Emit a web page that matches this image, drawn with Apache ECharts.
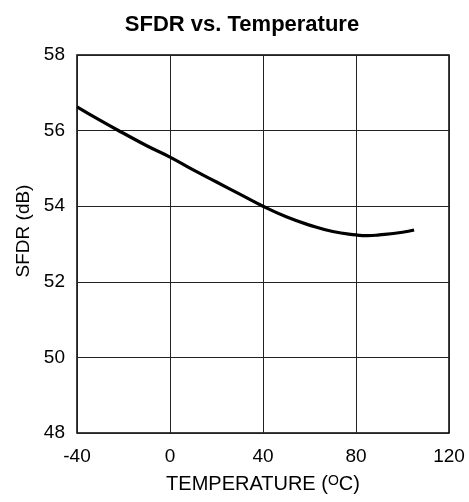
<!DOCTYPE html>
<html>
<head>
<meta charset="utf-8">
<script src="https://cdn.jsdelivr.net/npm/echarts@6/dist/echarts.min.js"></script>
<style>
  html, body { margin: 0; padding: 0; background: #fff; }
  #chart { width: 469px; height: 502px; }
</style>
</head>
<body>
<div id="chart"></div>
<script>
// SFDR (dB) measured against die temperature (°C)
const temperature = [-40, -30, -20, -10, 0, 10, 20, 30, 40, 50, 60, 70, 80, 85, 90, 100, 105];
const sfdr = [56.63, 56.27, 55.93, 55.6, 55.3, 54.96, 54.64, 54.32, 54.0, 53.72, 53.5, 53.33, 53.24, 53.22, 53.24, 53.31, 53.37];
const xTicks = [-40, 0, 40, 80, 120];
const yTicks = [48, 50, 52, 54, 56, 58];

const font = 'Liberation Sans, Arial, Helvetica, sans-serif';
const chart = echarts.init(document.getElementById('chart'));

chart.setOption({
  animation: false,
  title: {
    text: 'SFDR vs. Temperature',
    left: 237, top: 9, textAlign: 'center',
    textStyle: { fontFamily: font, fontWeight: 'bold', fontSize: 22, color: '#000' }
  },
  grid: { left: 77, right: 20, top: 55, bottom: 69, show: true, borderColor: '#000', borderWidth: 1.5 },
  xAxis: {
    type: 'value',
    min: xTicks[0], max: xTicks[xTicks.length - 1], interval: 40,
    name: 'TEMPERATURE ({sup|O}C)',
    nameLocation: 'middle', nameGap: 41,
    nameTextStyle: {
      fontFamily: font, fontSize: 20, color: '#000',
      rich: { sup: { fontFamily: font, fontSize: 14, color: '#000', verticalAlign: 'top', padding: [0, 0, 6, 0] } }
    },
    axisLine: { show: false },
    axisTick: { show: false },
    axisLabel: { fontFamily: font, fontSize: 19, color: '#000', margin: 14 },
    splitLine: { show: true, lineStyle: { color: '#222', width: 1 } }
  },
  yAxis: {
    type: 'value',
    min: yTicks[0], max: yTicks[yTicks.length - 1], interval: 2,
    name: 'SFDR (dB)',
    nameLocation: 'middle', nameGap: 43, nameRotate: 90,
    nameTextStyle: { fontFamily: font, fontSize: 19, color: '#000', padding: [0, 0, 0, 26] },
    axisLine: { show: false },
    axisTick: { show: false },
    axisLabel: { fontFamily: font, fontSize: 19, color: '#000', margin: 12 },
    splitLine: { show: true, lineStyle: { color: '#222', width: 1 } }
  },
  series: [{
    type: 'line',
    data: temperature.map((t, i) => [t, sfdr[i]]),
    smooth: true,
    showSymbol: false,
    lineStyle: { color: '#000', width: 3.2 }
  }]
});
</script>
</body>
</html>
